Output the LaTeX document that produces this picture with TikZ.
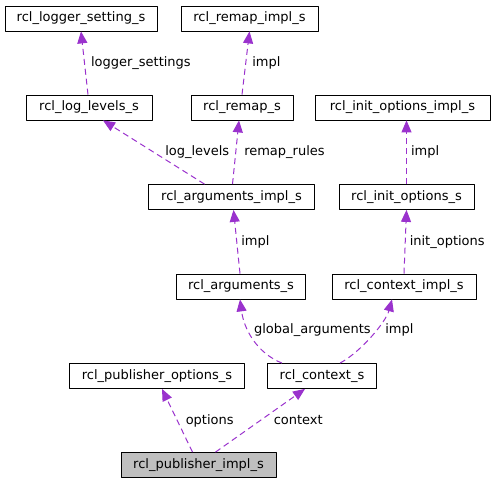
\documentclass[tikz,border=0pt]{standalone}
\usepackage{fontspec}
\setmainfont{DejaVu Sans}
\usetikzlibrary{arrows.meta}
\definecolor{usepurple}{HTML}{9A32CD}
\definecolor{selgray}{HTML}{BFBFBF}
\tikzset{
  cls/.style={draw=black, line width=0.8pt, minimum height=25pt, inner sep=0pt,
    font=\fontsize{13}{15}\selectfont},
  uses/.style={draw=usepurple, line width=1pt, dash pattern=on 6pt off 4pt,
    -{Triangle[length=12pt,width=10pt]}},
  lbl/.style={anchor=west, inner sep=0pt, text=black, font=\fontsize{13}{15}\selectfont}
}
\begin{document}
\begin{tikzpicture}[x=1pt,y=-1pt, line join=round]
  \useasboundingbox (0,0) rectangle (497,484);
  % classes
  \node[cls, minimum width=152pt] (logsetting) at (81,18.5) {rcl\_logger\_setting\_s};
  \node[cls, minimum width=137pt] (remapimpl) at (249.5,18.5) {rcl\_remap\_impl\_s};
  \node[cls, minimum width=126pt] (loglevels) at (89,107.5) {rcl\_log\_levels\_s};
  \node[cls, minimum width=102pt] (remap) at (242,107.5) {rcl\_remap\_s};
  \node[cls, minimum width=175pt] (initimpl) at (402.5,107.5) {rcl\_init\_options\_impl\_s};
  \node[cls, minimum width=166pt] (argsimpl) at (231.5,197) {rcl\_arguments\_impl\_s};
  \node[cls, minimum width=135pt] (initopts) at (406.5,197) {rcl\_init\_options\_s};
  \node[cls, minimum width=129pt] (args) at (241,286.5) {rcl\_arguments\_s};
  \node[cls, minimum width=144pt] (ctximpl) at (404,286.5) {rcl\_context\_impl\_s};
  \node[cls, minimum width=175pt] (pubopts) at (157,376) {rcl\_publisher\_options\_s};
  \node[cls, minimum width=109pt] (ctx) at (322,376) {rcl\_context\_s};
  \node[cls, minimum width=155pt, fill=selgray] (pubimpl) at (198.5,465) {rcl\_publisher\_impl\_s};
  % usage relations
  \draw[uses] ([xshift=-1pt]loglevels.north) -- (logsetting.south)
    node[lbl, pos=0.5, xshift=6pt] {logger\_settings};
  \draw[uses] (remap.north) -- (remapimpl.south)
    node[lbl, pos=0.5, xshift=6pt] {impl};
  \draw[uses] ([xshift=-27pt]argsimpl.north) -- ([xshift=14pt]loglevels.south)
    node[lbl, pos=0.5, xshift=11pt] {log\_levels};
  \draw[uses] ([xshift=1pt]argsimpl.north) -- ([xshift=-3pt]remap.south)
    node[lbl, pos=0.5, xshift=8pt] {remap\_rules};
  \draw[uses] (initopts.north) -- ([xshift=4pt]initimpl.south)
    node[lbl, pos=0.5, xshift=4pt] {impl};
  \draw[uses] ([xshift=-1pt]args.north) -- ([xshift=2pt]argsimpl.south)
    node[lbl, pos=0.5, xshift=4pt] {impl};
  \draw[uses] (ctximpl.north) -- (initopts.south)
    node[lbl, pos=0.5, xshift=4pt] {init\_options};
  \draw[uses] ([xshift=-40pt]ctx.north) .. controls +(-25,-10) and +(4,30) .. ([xshift=-1pt]args.south)
    node[lbl, pos=0.62, xshift=5pt] {global\_arguments};
  \draw[uses] ([xshift=18pt]ctx.north) .. controls +(22,-12) and +(-6,22) .. ([xshift=-12pt]ctximpl.south)
    node[lbl, pos=0.57, xshift=9pt] {impl};
  \draw[uses] ([xshift=-6pt]pubimpl.north) -- ([xshift=5pt]pubopts.south)
    node[lbl, pos=0.5, xshift=8pt] {options};
  \draw[uses] ([xshift=17pt]pubimpl.north) -- ([xshift=-17pt]ctx.south)
    node[lbl, pos=0.5, xshift=13pt] {context};
\end{tikzpicture}
\end{document}
